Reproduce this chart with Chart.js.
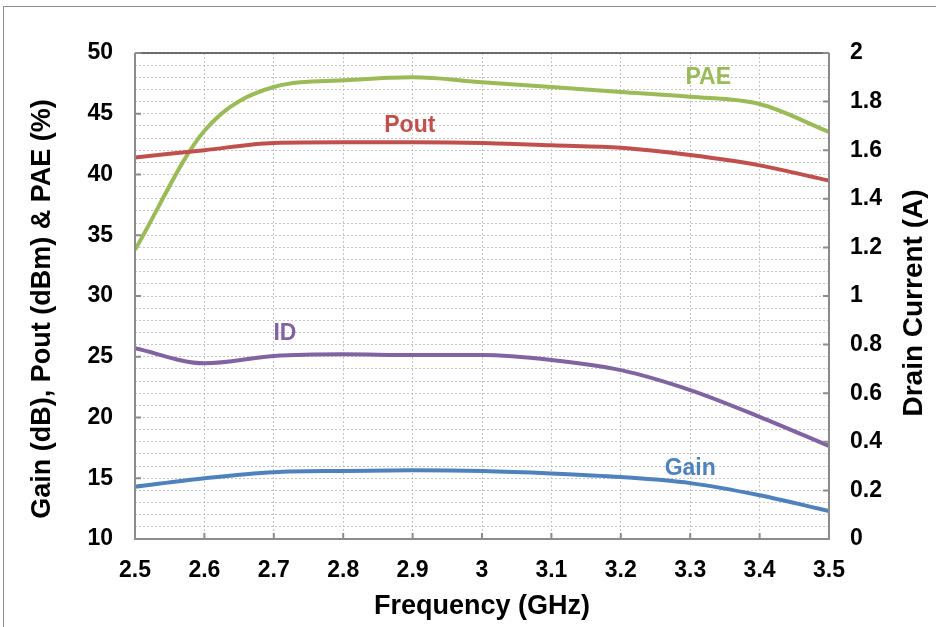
<!DOCTYPE html>
<html>
<head>
<meta charset="utf-8">
<script src="https://cdn.jsdelivr.net/npm/chart.js@4.4.0/dist/chart.umd.min.js"></script>
<style>
  html, body { margin: 0; padding: 0; background: #fff; overflow: hidden; }
  #wrap { position: relative; width: 936px; height: 627px; }
  #frame { position: absolute; left: 3px; top: 6px; width: 940px; height: 640px; border: 1px solid #8c8c8c; pointer-events: none; }
  canvas { position: absolute; left: 0; top: 0; }
</style>
</head>
<body>
<div id="wrap">
  <canvas id="rfChart" width="936" height="627"></canvas>
  <div id="frame"></div>
</div>
<script>
const freq = [2.5, 2.6, 2.7, 2.8, 2.9, 3.0, 3.1, 3.2, 3.3, 3.4, 3.5];

const gain = [14.3, 15.0, 15.5, 15.6, 15.65, 15.6, 15.4, 15.1, 14.6, 13.6, 12.3];
const pout = [41.4, 42.0, 42.6, 42.65, 42.65, 42.6, 42.4, 42.2, 41.6, 40.75, 39.5];
const pae = [33.8, 43.6, 47.2, 47.75, 48.0, 47.6, 47.2, 46.8, 46.4, 45.8, 43.5];
const drainCurrent = [0.785, 0.723, 0.753, 0.76, 0.757, 0.757, 0.737, 0.695, 0.613, 0.503, 0.383];

const FONT = "'Liberation Sans', Arial, sans-serif";

function pts(values) {
  return freq.map((f, i) => ({ x: f, y: values[i] }));
}

function fmt(v) {
  return String(Number(v.toFixed(2)));
}

// series names written next to the curves, anchored in data units
const seriesLabels = [
  { text: "PAE", x: 3.326, y: 48.0, color: "#9BBB59" },
  { text: "Pout", x: 2.896, y: 44.0, color: "#C0504D" },
  { text: "ID", x: 2.716, y: 26.9, color: "#8064A2" },
  { text: "Gain", x: 3.30, y: 15.76, color: "#4F81BD" },
];

const extrasPlugin = {
  id: "extras",
  afterDatasetsDraw(chart) {
    const ctx = chart.ctx;
    const { left, right, top, bottom } = chart.chartArea;
    const x = chart.scales.x;
    const y = chart.scales.y;
    const y1 = chart.scales.y1;

    ctx.save();
    // axis box
    ctx.strokeStyle = "#8c8c8c";
    ctx.lineWidth = 2;
    ctx.beginPath();
    ctx.moveTo(left, top);
    ctx.lineTo(left, bottom);
    ctx.lineTo(right, bottom);
    ctx.lineTo(right, top);
    ctx.stroke();
    ctx.strokeStyle = "#404040";
    ctx.lineWidth = 1.5;
    ctx.beginPath();
    ctx.moveTo(left, top);
    ctx.lineTo(right, top);
    ctx.stroke();

    // inner tick marks
    ctx.strokeStyle = "#8c8c8c";
    ctx.lineWidth = 2;
    ctx.beginPath();
    y.ticks.forEach((t) => {
      if (Math.abs(t.value % 5) < 1e-6) {
        const py = y.getPixelForValue(t.value);
        ctx.moveTo(left, py);
        ctx.lineTo(left + 6, py);
      }
    });
    x.ticks.forEach((t) => {
      const px = x.getPixelForValue(t.value);
      ctx.moveTo(px, bottom);
      ctx.lineTo(px, bottom - 6);
    });
    y1.ticks.forEach((t) => {
      const py = y1.getPixelForValue(t.value);
      ctx.moveTo(right, py);
      ctx.lineTo(right - 6, py);
    });
    ctx.stroke();

    // curve labels
    ctx.font = "bold 23px " + FONT;
    ctx.textAlign = "center";
    ctx.textBaseline = "middle";
    seriesLabels.forEach((l) => {
      ctx.fillStyle = l.color;
      ctx.fillText(l.text, x.getPixelForValue(l.x), y.getPixelForValue(l.y));
    });

    // vertical axis titles (both read bottom to top)
    ctx.fillStyle = "#000";
    ctx.font = "bold 27px " + FONT;
    ctx.translate(43, 309);
    ctx.rotate(-Math.PI / 2);
    ctx.fillText("Gain (dB), Pout (dBm) & PAE (%)", 0, 0);
    ctx.rotate(Math.PI / 2);
    ctx.translate(-43, -309);
    ctx.font = "bold 28px " + FONT;
    ctx.translate(914, 303);
    ctx.rotate(-Math.PI / 2);
    ctx.fillText("Drain Current (A)", 0, 0);
    ctx.restore();
  },
};

const lineStyle = (color) => ({
  borderColor: color,
  backgroundColor: color,
  borderWidth: 4,
  pointRadius: 0,
  cubicInterpolationMode: "monotone",
  fill: false,
});

new Chart(document.getElementById("rfChart").getContext("2d"), {
  type: "line",
  data: {
    datasets: [
      { label: "Gain", data: pts(gain), yAxisID: "y", ...lineStyle("#4F81BD") },
      { label: "Pout", data: pts(pout), yAxisID: "y", ...lineStyle("#C0504D") },
      { label: "PAE", data: pts(pae), yAxisID: "y", ...lineStyle("#9BBB59") },
      { label: "ID", data: pts(drainCurrent), yAxisID: "y1", ...lineStyle("#8064A2") },
    ],
  },
  options: {
    responsive: false,
    animation: false,
    layout: { padding: { top: 53, left: 0, right: 0, bottom: 0 } },
    plugins: { legend: { display: false }, tooltip: { enabled: false } },
    scales: {
      x: {
        type: "linear",
        min: 2.5,
        max: 3.5,
        afterFit: (s) => { s.height = 88; },
        ticks: {
          stepSize: 0.1,
          autoSkip: false,
          maxRotation: 0,
          padding: 18,
          color: "#000",
          font: { family: FONT, size: 23, weight: "bold" },
          callback: (v) => fmt(v),
        },
        grid: { color: "#c4c4c4", lineWidth: 1, drawTicks: false },
        border: { display: false, dash: [2, 2] },
        title: {
          display: true,
          text: "Frequency (GHz)",
          color: "#000",
          font: { family: FONT, size: 27, weight: "bold" },
          padding: { top: 0, bottom: 4 },
        },
      },
      y: {
        position: "left",
        min: 10,
        max: 50,
        afterFit: (s) => { s.width = 135; },
        ticks: {
          stepSize: 1,
          autoSkip: false,
          padding: 22,
          color: "#000",
          font: { family: FONT, size: 23, weight: "bold" },
          callback: (v) => (v % 5 === 0 ? String(v) : ""),
        },
        grid: { color: "#c4c4c4", lineWidth: 1, drawTicks: false },
        border: { display: false, dash: [2, 2] },
      },
      y1: {
        position: "right",
        min: 0,
        max: 2,
        afterFit: (s) => { s.width = 107; },
        ticks: {
          stepSize: 0.2,
          autoSkip: false,
          padding: 21,
          color: "#000",
          font: { family: FONT, size: 23, weight: "bold" },
          callback: (v) => fmt(v),
        },
        grid: { drawOnChartArea: false, drawTicks: false },
        border: { display: false },
      },
    },
  },
  plugins: [extrasPlugin],
});
</script>
</body>
</html>
